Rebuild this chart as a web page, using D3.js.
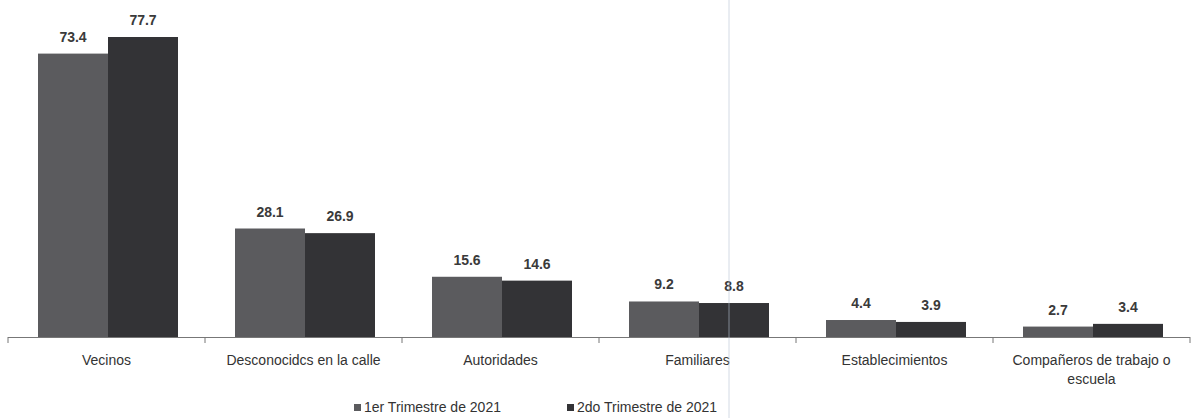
<!DOCTYPE html>
<html><head><meta charset="utf-8">
<script src="https://cdn.jsdelivr.net/npm/d3@7"></script>
<style>
body{margin:0;background:#fff;}
text{font-family:"Liberation Sans",Arial,sans-serif;}
</style></head>
<body><svg id="c" width="1202" height="418"></svg>
<script>
const categories = ["Vecinos","Desconocidos en la calle","Autoridades","Familiares","Establecimientos","Compañeros de trabajo o escuela"];
const categoryLines = [["Vecinos"],["Desconocidcs en la calle"],["Autoridades"],["Familiares"],["Establecimientos"],["Compañeros de trabajo o","escuela"]];
const seriesNames = ["1er Trimestre de 2021","2do Trimestre de 2021"];
const serie1 = [73.4,28.1,15.6,9.2,4.4,2.7];
const serie2 = [77.7,26.9,14.6,8.8,3.9,3.4];
const colors = ["#5b5b5e","#333336"];

const svg = d3.select("#c");
const x0 = d3.scaleBand().domain(categories).range([8,1190]).paddingInner(0).paddingOuter(0);
const x1 = d3.scaleBand().domain([0,1]).range([30, x0.bandwidth()-27]);
const y = d3.scaleLinear().domain([0,77.7]).range([337,37]);

const data = categories.map((c,i)=>({c,i,v:[serie1[i],serie2[i]]}));
const g = svg.append("g");
data.forEach(d=>{
  d.v.forEach((v,s)=>{
    g.append("rect").attr("x",x0(d.c)+x1(s)).attr("y",y(v))
      .attr("width",x1.bandwidth()).attr("height",y(0)-y(v)).attr("fill",colors[s]);
    g.append("text").attr("x",x0(d.c)+x1(s)+x1.bandwidth()/2).attr("y",y(v)-12)
      .attr("text-anchor","middle").attr("font-size",14).attr("font-weight","bold")
      .attr("fill","#3a3a3a").text(v.toFixed(1));
  });
});

// axis
const axis = svg.append("g");
axis.append("line").attr("x1",8).attr("x2",1190).attr("y1",337.5).attr("y2",337.5).attr("stroke","#777").attr("stroke-width",1);
const ticks = categories.map(c=>x0(c)).concat([x0.range()[1]]);
ticks.forEach(t=>axis.append("line").attr("x1",t).attr("x2",t).attr("y1",337).attr("y2",343).attr("stroke","#777"));
data.forEach((d,i)=>{
  const t = axis.append("text").attr("x",x0(d.c)+x0.bandwidth()/2).attr("y",365)
    .attr("text-anchor","middle").attr("font-size",14).attr("fill","#333");
  categoryLines[i].forEach((ln,k)=>t.append("tspan").attr("x",x0(d.c)+x0.bandwidth()/2).attr("dy",k?19:0).text(ln));
});

// legend
const legX = [354,567];
seriesNames.forEach((n,s)=>{
  svg.append("rect").attr("x",legX[s]).attr("y",404).attr("width",7).attr("height",7).attr("fill",colors[s]);
  svg.append("text").attr("x",legX[s]+10).attr("y",412).attr("font-size",14).attr("fill","#333").text(n);
});

// scan artifact line
svg.append("line").attr("x1",729).attr("x2",729).attr("y1",0).attr("y2",418).attr("stroke","#b8c4d4").attr("stroke-width",1).attr("opacity",0.6);
</script></body></html>
